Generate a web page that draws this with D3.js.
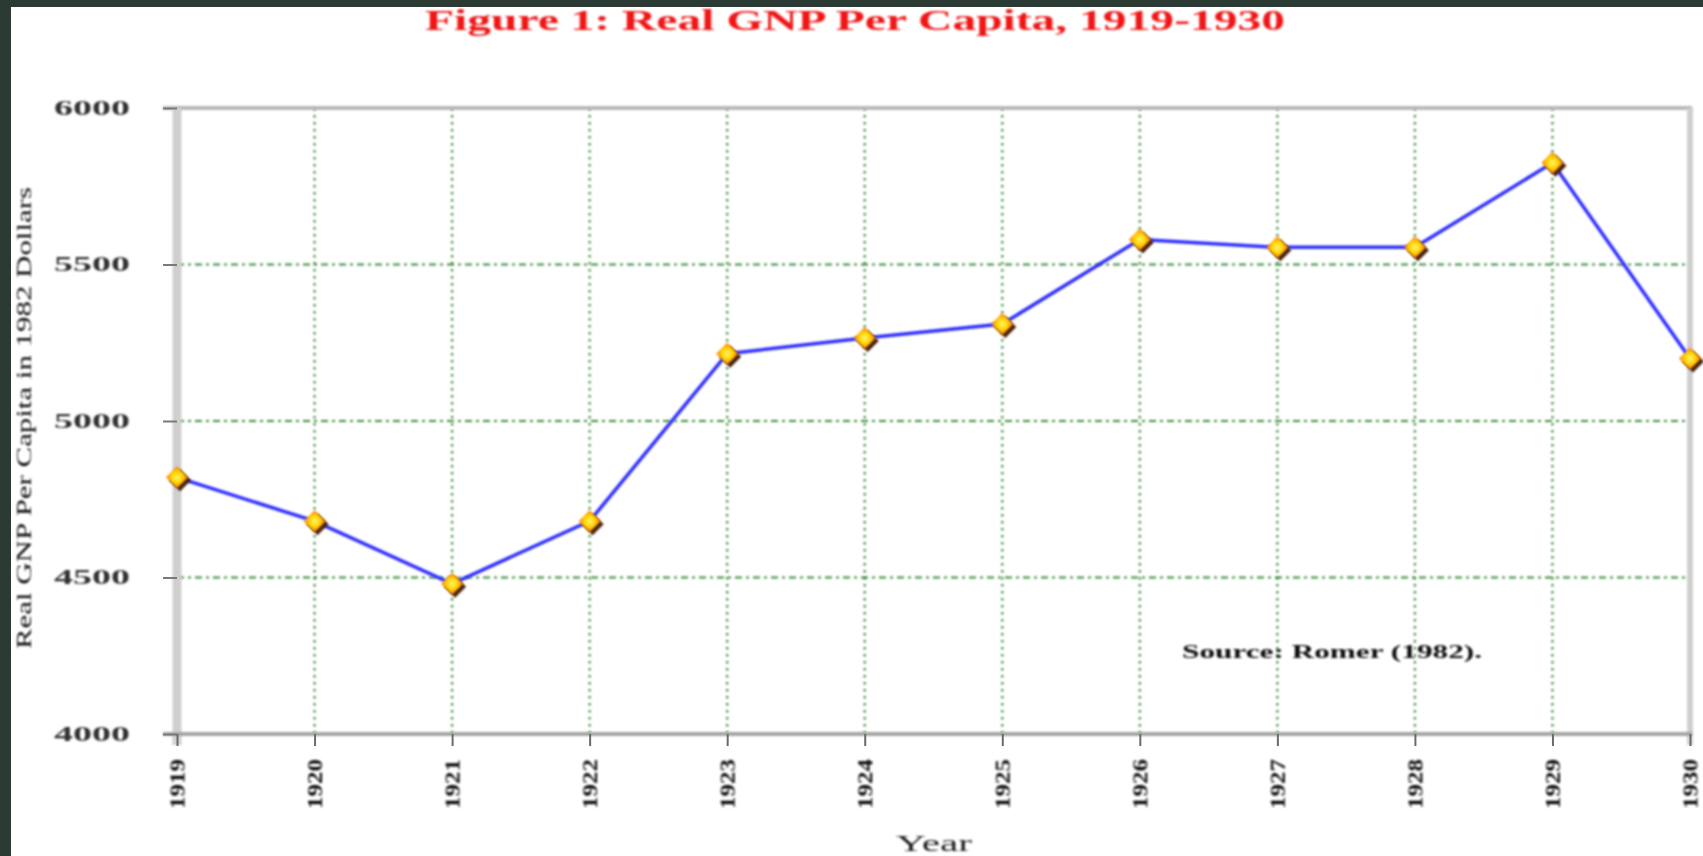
<!DOCTYPE html>
<html>
<head>
<meta charset="utf-8">
<script src="https://cdn.jsdelivr.net/npm/d3@7/dist/d3.min.js"></script>
<style>
  html, body { margin: 0; padding: 0; background: #2b3a33; }
  #grafico { position: absolute; left: 0; top: 0; }
</style>
</head>
<body>
<div id="grafico"></div>
<script>
// dados
const anos = [1919, 1920, 1921, 1922, 1923, 1924, 1925, 1926, 1927, 1928, 1929, 1930];
const pibPerCapita = [4820, 4680, 4480, 4680, 5215, 5265, 5310, 5580, 5555, 5555, 5825, 5200];
const ticksY = [4000, 4500, 5000, 5500, 6000];
const linhasGradeY = [4500, 5000, 5500];

const largura = 1703, altura = 856;
const margem = { esquerda: 177, direita: 1690, topo: 108, base: 734 };

const svg = d3.select('#grafico').append('svg')
    .attr('width', largura).attr('height', altura);

// fundo branco com a moldura escura da captura
svg.append('rect').attr('x', 0).attr('y', 0).attr('width', largura).attr('height', altura).attr('fill', '#2b3a33');
svg.append('rect').attr('x', 11).attr('y', 7).attr('width', largura - 11).attr('height', altura - 7).attr('fill', '#ffffff');

const defs = svg.append('defs');
// filtro em coordenadas do usuario (regiao grande, vale para elementos transformados e linhas retas)
const filtroBlur = defs.append('filter').attr('id', 'suave')
    .attr('filterUnits', 'userSpaceOnUse')
    .attr('x', -3000).attr('y', -3000).attr('width', 8000).attr('height', 8000);
filtroBlur.append('feGaussianBlur').attr('stdDeviation', 0.8);

const grad = defs.append('radialGradient').attr('id', 'marcador');
grad.append('stop').attr('offset', '0%').attr('stop-color', '#fff36a');
grad.append('stop').attr('offset', '50%').attr('stop-color', '#ffd400');
grad.append('stop').attr('offset', '100%').attr('stop-color', '#ff6a10');

const x = d3.scaleLinear().domain([1919, 1930]).range([margem.esquerda, margem.direita]);
const y = d3.scaleLinear().domain([4000, 6000]).range([margem.base, margem.topo]);

const fonte = '"Liberation Serif", "Times New Roman", serif';

// titulo
svg.append('text')
    .attr('x', 855).attr('y', 30)
    .attr('text-anchor', 'middle')
    .attr('textLength', 860).attr('lengthAdjust', 'spacingAndGlyphs')
    .style('font-family', fonte).style('font-size', '30px').style('font-weight', 'bold')
    .style('fill', '#f01818')
    .attr('filter', 'url(#suave)')
    .text('Figure 1: Real GNP Per Capita, 1919-1930');

const g = svg.append('g');

// grade
g.selectAll('.grade-x').data(anos.slice(1, -1)).enter().append('line')
    .attr('class', 'grade-x')
    .attr('x1', d => x(d)).attr('x2', d => x(d))
    .attr('y1', margem.topo).attr('y2', margem.base)
    .attr('stroke', '#3d8d3d').attr('stroke-width', 2.2)
    .attr('stroke-dasharray', '2.5,4.5')
    .attr('filter', 'url(#suave)');

g.selectAll('.grade-y').data(linhasGradeY).enter().append('line')
    .attr('class', 'grade-y')
    .attr('x1', margem.esquerda).attr('x2', margem.direita)
    .attr('y1', d => y(d)).attr('y2', d => y(d))
    .attr('stroke', '#3d8d3d').attr('stroke-width', 2.2)
    .attr('stroke-dasharray', '7,4,3,4')
    .attr('filter', 'url(#suave)');

// moldura cinza
g.append('line').attr('x1', 163).attr('x2', margem.direita + 2).attr('y1', margem.topo).attr('y2', margem.topo)
    .attr('stroke', '#b8b8b8').attr('stroke-width', 4).attr('filter', 'url(#suave)');
g.append('line').attr('x1', margem.esquerda).attr('x2', margem.esquerda).attr('y1', margem.topo).attr('y2', 745)
    .attr('stroke', '#cfcfcf').attr('stroke-width', 9).attr('filter', 'url(#suave)');
g.append('line').attr('x1', margem.direita).attr('x2', margem.direita).attr('y1', margem.topo).attr('y2', 745)
    .attr('stroke', '#cfcfcf').attr('stroke-width', 6).attr('filter', 'url(#suave)');
g.append('line').attr('x1', 163).attr('x2', margem.direita + 2).attr('y1', margem.base).attr('y2', margem.base)
    .attr('stroke', '#a4a4a4').attr('stroke-width', 4).attr('filter', 'url(#suave)');

// eixo y
const eixoY = g.append('g')
    .attr('transform', `translate(${margem.esquerda},0)`)
    .call(d3.axisLeft(y).tickValues(ticksY).tickSize(14).tickPadding(33).tickFormat(d3.format('d')));
eixoY.select('.domain').remove();
eixoY.selectAll('.tick line').attr('stroke', '#7a7a7a').attr('stroke-width', 2);
eixoY.selectAll('.tick text')
    .attr('textLength', 76).attr('lengthAdjust', 'spacingAndGlyphs')
    .style('font-family', fonte).style('font-size', '20px').style('font-weight', 'bold').style('fill', '#333')
    .attr('filter', 'url(#suave)');

// eixo x
const eixoX = g.append('g')
    .attr('transform', `translate(0,${margem.base})`)
    .call(d3.axisBottom(x).tickValues(anos).tickSize(12).tickFormat(d3.format('d')));
eixoX.select('.domain').remove();
eixoX.selectAll('.tick line').attr('stroke', '#6a6a6a').attr('stroke-width', 2);
eixoX.selectAll('.tick text')
    .attr('y', 0).attr('dy', '0.35em')
    .attr('transform', 'translate(0,50) rotate(-90)')
    .attr('text-anchor', 'middle')
    .attr('textLength', 50).attr('lengthAdjust', 'spacingAndGlyphs')
    .style('font-family', fonte).style('font-size', '20px').style('font-weight', 'bold').style('fill', '#111')
    .attr('filter', 'url(#suave)');

// titulos dos eixos
svg.append('text')
    .attr('transform', 'translate(31,418) rotate(-90)')
    .attr('text-anchor', 'middle')
    .attr('textLength', 462).attr('lengthAdjust', 'spacingAndGlyphs')
    .style('font-family', fonte).style('font-size', '22px').style('fill', '#111')
    .attr('filter', 'url(#suave)')
    .text('Real GNP Per Capita in 1982 Dollars');

svg.append('text')
    .attr('x', 934).attr('y', 851)
    .attr('text-anchor', 'middle')
    .attr('textLength', 76).attr('lengthAdjust', 'spacingAndGlyphs')
    .style('font-family', fonte).style('font-size', '24px').style('fill', '#222')
    .attr('filter', 'url(#suave)')
    .text('Year');

svg.append('text')
    .attr('x', 1332).attr('y', 658)
    .attr('text-anchor', 'middle')
    .attr('textLength', 300).attr('lengthAdjust', 'spacingAndGlyphs')
    .style('font-family', fonte).style('font-size', '19px').style('font-weight', 'bold').style('fill', '#111')
    .attr('filter', 'url(#suave)')
    .text('Source: Romer (1982).');

// serie
const pontos = anos.map((a, i) => ({ ano: a, valor: pibPerCapita[i] }));
const linha = d3.line().x(d => x(d.ano)).y(d => y(d.valor));

g.append('path').datum(pontos)
    .attr('d', linha)
    .attr('fill', 'none')
    .attr('stroke', '#2f2fff')
    .attr('stroke-width', 3.5)
    .attr('filter', 'url(#suave)');

const losango = 'M0,-11 L11,0 L0,11 L-11,0 Z';
const marcadores = g.selectAll('.ponto').data(pontos).enter().append('g')
    .attr('class', 'ponto')
    .attr('transform', d => `translate(${x(d.ano)},${y(d.valor)})`);
marcadores.append('path').attr('d', losango).attr('transform', 'translate(3,3)').attr('fill', '#4a2208').attr('filter', 'url(#suave)');
marcadores.append('path').attr('d', losango).attr('fill', 'url(#marcador)').attr('filter', 'url(#suave)');
</script>
</body>
</html>
